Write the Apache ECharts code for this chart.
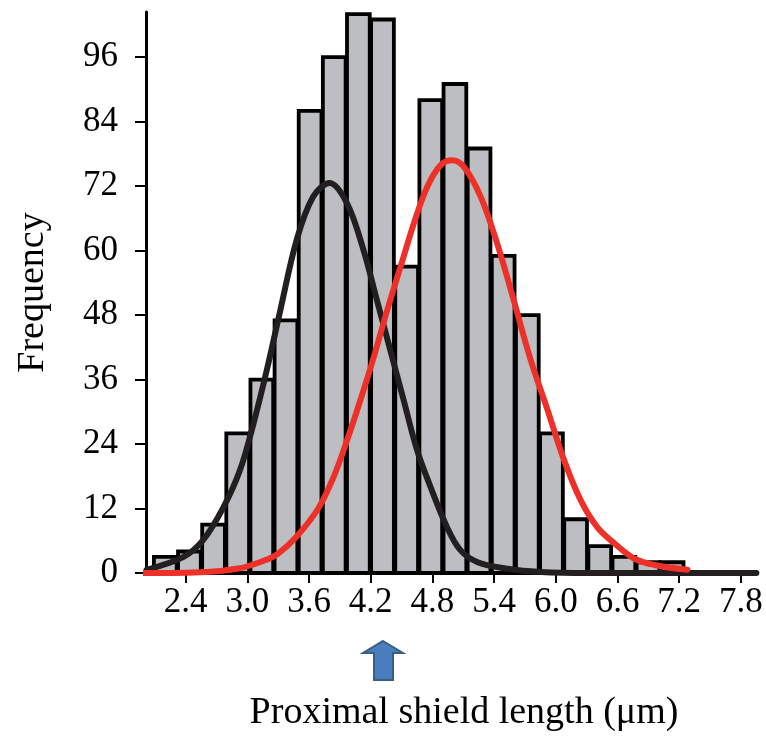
<!DOCTYPE html>
<html>
<head>
<meta charset="utf-8">
<script src="https://cdn.jsdelivr.net/npm/echarts@6/dist/echarts.min.js"></script>
<style>
html,body{margin:0;padding:0;background:#fff;}
#chart{width:766px;height:738px;}
</style>
</head>
<body>
<div id="chart"></div>
<script>
// Histogram bins (uniform width), counts
const binStart = 2.085;
const binWidth = 0.2347;
const counts = [3, 4, 9, 26, 36, 47, 86, 96, 104, 103, 57, 88, 91, 79, 59, 48, 26, 10, 5, 3, 2, 2];

// Fitted curves, points [x, frequency]
const blackCurve = [[2.02,0.6],[2.38,3.0],[2.57,6.1],[2.77,12.3],[2.93,19.2],[3.06,27.8],[3.19,37.8],[3.32,48.8],[3.48,62.0],[3.64,70.0],[3.80,72.6],[3.97,68.8],[4.13,60.1],[4.26,50.8],[4.39,41.5],[4.52,32.2],[4.65,22.9],[4.78,16.1],[4.94,8.6],[5.07,4.3],[5.24,2.0],[5.53,0.8],[5.85,0.2],[6.3,0],[7.95,0]];
const redCurve = [[1.99,0],[2.6,0.2],[2.93,0.9],[3.06,1.6],[3.19,2.5],[3.30,3.6],[3.48,6.8],[3.69,12.0],[3.84,17.9],[3.97,24.7],[4.10,32.2],[4.23,40.2],[4.36,48.9],[4.49,57.0],[4.62,65.1],[4.75,71.9],[4.88,75.9],[4.99,76.8],[5.11,75.5],[5.27,70.0],[5.43,61.3],[5.59,50.8],[5.75,40.0],[5.92,30.3],[6.08,21.0],[6.24,13.6],[6.40,8.6],[6.57,5.5],[6.76,2.7],[6.96,1.5],[7.28,0.6]];

// Tick labels
const xTicks = [2.4, 3.0, 3.6, 4.2, 4.8, 5.4, 6.0, 6.6, 7.2, 7.8];
const yTicks = [0, 12, 24, 36, 48, 60, 72, 84, 96];

const xTitle = 'Proximal shield length (\u03bcm)';
const yTitle = 'Frequency';

const barData = counts.map((c, i) => [binStart + i * binWidth, binStart + (i + 1) * binWidth, c]);

const FONT = "'Liberation Serif', 'DejaVu Serif', serif";
const chart = echarts.init(document.getElementById('chart'), null, {renderer: 'canvas'});

chart.setOption({
  animation: false,
  backgroundColor: '#fff',
  grid: {left: 146, right: 9, top: 12, bottom: 165, containLabel: false},
  xAxis: {
    type: 'value',
    min: 2.015,
    max: 7.956,
    splitLine: {show: false},
    axisLine: {show: true, onZero: false, lineStyle: {color: '#000', width: 4}},
    axisTick: {show: true, customValues: xTicks, length: 10, inside: false, lineStyle: {color: '#000', width: 2}},
    axisLabel: {customValues: xTicks, formatter: v => v.toFixed(1), color: '#000', fontFamily: FONT, fontSize: 35, margin: 12},
    name: xTitle,
    nameLocation: 'middle',
    nameGap: 121,
    nameTextStyle: {color: '#000', fontFamily: FONT, fontSize: 38, padding: [0, 0, 0, 25]}
  },
  yAxis: {
    type: 'value',
    min: 0,
    max: 104.4,
    splitLine: {show: false},
    axisLine: {show: true, lineStyle: {color: '#000', width: 3}},
    axisTick: {show: true, customValues: yTicks, length: 11, inside: false, lineStyle: {color: '#000', width: 2}},
    axisLabel: {customValues: yTicks, color: '#000', fontFamily: FONT, fontSize: 35, margin: 28},
    name: yTitle,
    nameLocation: 'middle',
    nameRotate: 90,
    nameGap: 94,
    nameTextStyle: {color: '#000', fontFamily: FONT, fontSize: 38}
  },
  series: [
    {
      type: 'custom',
      z: 1,
      data: barData,
      encode: {x: [0, 1], y: 2},
      renderItem: function (params, api) {
        const x0 = api.value(0), x1 = api.value(1), y = api.value(2);
        const pTop = api.coord([x0, y]);
        const pBot = api.coord([x1, 0]);
        return {
          type: 'rect',
          shape: {x: pTop[0] + 0.7, y: pTop[1], width: pBot[0] - pTop[0] - 1.4, height: pBot[1] - pTop[1]},
          style: {fill: '#bdbec2', stroke: '#000', lineWidth: 3.8}
        };
      }
    },
    {
      type: 'line',
      z: 3,
      data: blackCurve,
      showSymbol: false,
      smooth: 0.35,
      lineStyle: {color: '#231f20', width: 6, cap: 'round', join: 'round'}
    },
    {
      type: 'line',
      z: 4,
      data: redCurve,
      showSymbol: false,
      smooth: 0.35,
      lineStyle: {color: '#ee3128', width: 6, cap: 'round', join: 'round'}
    }
  ],
  graphic: [
    {
      type: 'polygon',
      shape: {points: [[383,641],[403,653],[393,653],[393,680],[374,680],[374,653],[363,653]]},
      style: {fill: '#4a7dbb', stroke: '#3a5d8a', lineWidth: 2}
    }
  ]
});
</script>
</body>
</html>
